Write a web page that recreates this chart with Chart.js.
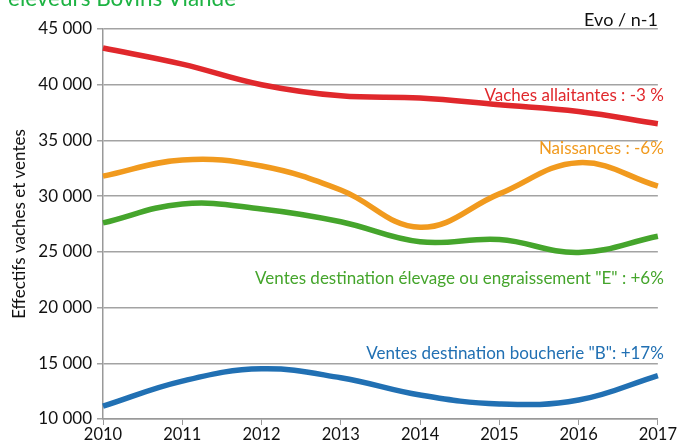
<!DOCTYPE html>
<html lang="fr">
<head>
    <meta charset="UTF-8">
    <title>Effectifs vaches et ventes</title>
    <style>
        body { margin: 0; background: #fff; overflow: hidden; }
        #wrap { position: relative; width: 677px; height: 442px; overflow: hidden; }
        #topTitle {
            position: absolute; left: 8px; top: -16px;
            font-family: Lato, "Noto Sans", sans-serif; font-size: 22.5px;
            color: #1db343; white-space: nowrap;
        }
        canvas { position: absolute; left: 0; top: 0; }
    </style>
    <script src="https://cdn.jsdelivr.net/npm/chart.js"></script>
</head>
<body>
<div id="wrap">
    <canvas id="chart" width="677" height="442"></canvas>
    <div id="topTitle">éleveurs Bovins Viande</div>
</div>
<script>
    const years = ['2010', '2011', '2012', '2013', '2014', '2015', '2016', '2017'];
    const vachesAllaitantes = [43300, 41850, 40000, 39000, 38800, 38200, 37600, 36500];
    const naissances = [31800, 33250, 32700, 30550, 27200, 30200, 33000, 30900];
    const ventesElevage = [27600, 29300, 28850, 27700, 25900, 26100, 24950, 26400];
    const ventesBoucherie = [11150, 13400, 14500, 13700, 12150, 11350, 11700, 13900];

    // right-aligned series notes, anchored on a y value
    const notes = [
        { text: 'Vaches allaitantes : -3 %', y: 39000, color: '#e0282c' },
        { text: 'Naissances : -6%', y: 34250, color: '#f19a1e' },
        { text: 'Ventes destination élevage ou engraissement "E" : +6%', y: 22650, color: '#45a52c' },
        { text: 'Ventes destination boucherie "B": +17%', y: 15900, color: '#2170b3' }
    ];

    const fontFamily = 'Lato, "Noto Sans", sans-serif';

    const notesPlugin = {
        id: 'notes',
        afterDraw(chart) {
            const ctx = chart.ctx;
            const area = chart.chartArea;
            const yScale = chart.scales.y;
            ctx.save();
            ctx.textAlign = 'right';
            ctx.textBaseline = 'middle';
            ctx.font = '17px ' + fontFamily;
            notes.forEach(n => {
                ctx.fillStyle = n.color;
                ctx.fillText(n.text, area.right + 6, yScale.getPixelForValue(n.y));
            });
            ctx.fillStyle = '#111';
            ctx.font = '18px ' + fontFamily;
            ctx.fillText('Evo / n-1', area.right, area.top - 9);
            ctx.restore();
        }
    };

    function makeSet(data, color) {
        return {
            data: data,
            borderColor: color,
            borderWidth: 5.5,
            pointRadius: 0,
            tension: 0.4,
            fill: false
        };
    }

    new Chart(document.getElementById('chart'), {
        type: 'line',
        data: {
            labels: years,
            datasets: [
                makeSet(vachesAllaitantes, '#e0282c'),
                makeSet(naissances, '#f19a1e'),
                makeSet(ventesElevage, '#45a52c'),
                makeSet(ventesBoucherie, '#2170b3')
            ]
        },
        options: {
            responsive: false,
            animation: false,
            layout: { padding: { top: 29, right: 19, left: 9, bottom: 0 } },
            plugins: {
                legend: { display: false },
                tooltip: { enabled: false }
            },
            scales: {
                x: {
                    offset: false,
                    grid: {
                        display: true,
                        drawOnChartArea: false,
                        drawTicks: true,
                        tickLength: 6,
                        color: '#999'
                    },
                    border: { color: '#999', width: 1.5 },
                    ticks: {
                        color: '#111',
                        font: { family: fontFamily, size: 16.5 },
                        padding: 0,
                        maxRotation: 0
                    },
                    afterFit(scale) { scale.height = 23; }
                },
                y: {
                    min: 10000,
                    max: 45000,
                    grid: {
                        color: '#a3a3a3',
                        lineWidth: 1.5,
                        tickLength: 6
                    },
                    border: { color: '#999', width: 1.5 },
                    ticks: {
                        stepSize: 5000,
                        color: '#111',
                        padding: 5,
                        font: { family: fontFamily, size: 17 },
                        callback: v => String(v).replace(/\B(?=(\d{3})+(?!\d))/g, ' ')
                    },
                    title: {
                        display: true,
                        text: 'Effectifs vaches et ventes',
                        color: '#111',
                        font: { family: fontFamily, size: 17 },
                        padding: { top: 0, bottom: 4 }
                    },
                    afterFit(scale) { scale.width = 94; }
                }
            }
        },
        plugins: [notesPlugin]
    });
</script>
</body>
</html>
